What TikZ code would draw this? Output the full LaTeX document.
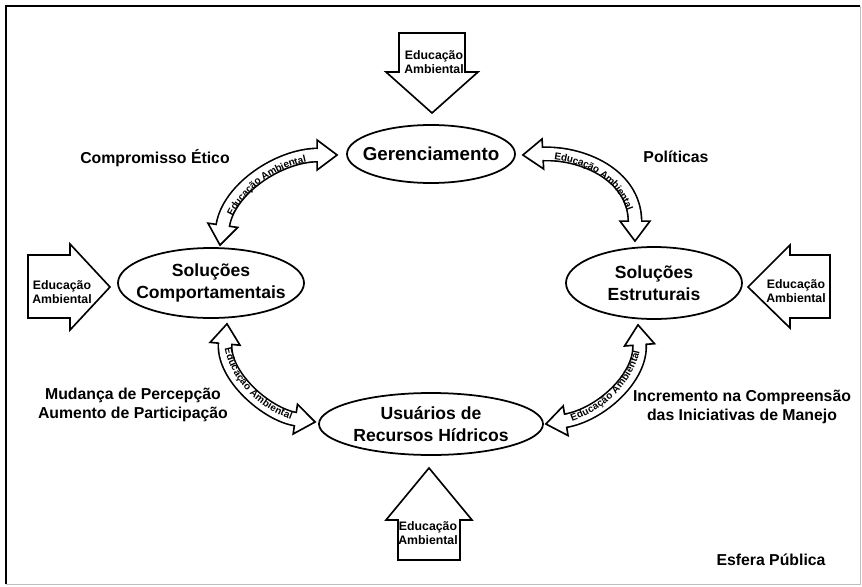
\documentclass[tikz,border=0pt]{standalone}
\usepackage{fontspec}
\setmainfont{Liberation Sans}
\usetikzlibrary{calc,shapes.geometric,decorations.markings,decorations.text}

% open head of a curved band, tip at the origin, pointing along +x
\newcommand\eahead{%
  \fill[white] (1,0) -- (-20,15) -- (-20,-15) -- cycle;
  \draw[line width=1.4pt,line join=miter] (-20,6) -- (-20,15) -- (0,0) -- (-20,-15) -- (-20,-6);}

% curved two-way band: start, control, control, end
\newcommand\eaband[4]{%
  \draw[band] #1 .. controls #2 and #3 .. #4;
  \path[decorate, decoration={markings,
      mark=at position 0 with {\begin{scope}[rotate=180]\eahead\end{scope}},
      mark=at position 0.9999 with {\eahead}}] #1 .. controls #2 and #3 .. #4;
  \path[bandtext] #1 .. controls #2 and #3 .. #4;}

\tikzset{
  topic/.style={ellipse, draw, line width=1.5pt, inner xsep=-1cm, inner ysep=0pt,
    align=center, font=\bfseries\fontsize{15}{19}\selectfont},
  lbl/.style={align=center, font=\bfseries\fontsize{13.5}{16}\selectfont},
  eatext/.style={align=center, inner sep=0pt, font=\bfseries\fontsize{10.5}{12}\selectfont},
  blockarrow/.style={draw, fill=white, line width=1.4pt, line join=miter},
  band/.style={double=white, double distance=10pt, line width=1.4pt,
    shorten <=0.57cm, shorten >=0.57cm},
  bandtext/.style={decorate, decoration={text along path,
      text={|\bfseries\fontsize{8.5}{10}\selectfont|Educação Ambiental},
      text align=center, raise=-1.1mm}}
}

\begin{document}
\begin{tikzpicture}[x=0.03cm,y=-0.03cm]
  \useasboundingbox (0,0) rectangle (862,587);
  \draw[line width=2.5pt] (6,584) -- (6,6) -- (860,6);
  \draw[gray!50,line width=0.6pt] (860,6) -- (860,584) -- (6,584);

  % the four themes
  \node[topic, minimum width=5.04cm, minimum height=1.74cm, font=\bfseries\fontsize{16}{19}\selectfont] (ger) at (431,154) {Gerenciamento};
  \node[topic, minimum width=5.58cm, minimum height=2.1cm] (comp) at (211,283) {Soluções\\Comportamentais};
  \node[topic, minimum width=5.28cm, minimum height=2.16cm] (estr) at (654,283) {Soluções\\Estruturais};
  \node[topic, minimum width=6.72cm, minimum height=1.86cm] (usu) at (431,424) {Usuários de\\Recursos Hídricos};

  % straight arrows from outside
  \draw[blockarrow] (399,33) -- (465,33) -- (465,72) -- (478,72) -- (432,113) -- (386,72) -- (399,72) -- cycle;
  \node[eatext] (eatop) at (434,62) {Educação\\Ambiental};
  \draw[blockarrow] (398,560) -- (460,560) -- (460,520) -- (472,520) -- (429,468) -- (386,520) -- (398,520) -- cycle;
  \node[eatext] (eabot) at (428,533) {Educação\\Ambiental};
  \draw[blockarrow] (28,255) -- (70,255) -- (70,244) -- (110,287) -- (70,330) -- (70,318) -- (28,318) -- cycle;
  \node[eatext] (eaw) at (62,292) {Educação\\Ambiental};
  \draw[blockarrow] (830,255) -- (790,255) -- (790,245) -- (748,287) -- (790,328) -- (790,318) -- (830,318) -- cycle;
  \node[eatext] (eae) at (796,291) {Educação\\Ambiental};

  % curved two-way bands
  \eaband{($(comp.north)+(9,-2)$)}{+(8,-56)}{+(-58,0)}{($(ger.west)+(-9,1)$)}
  \eaband{($(ger.east)+(7,1)$)}{+(58,-3)}{+(0,-67)}{($(estr.north)+(-19,-5)$)}
  \eaband{($(comp.south)+(16,5)$)}{+(-5,52)}{+(-48,-7)}{($(usu.west)+(-3,-2)$)}
  \eaband{($(usu.east)+(2,0)$)}{+(55,-9)}{+(4,52)}{($(estr.south)+(-16,5)$)}

  % labels
  \node[lbl] (etico) at (155,158) {Compromisso Ético};
  \node[lbl] (pol) at (676,157) {Políticas};
  \node[lbl] (perc) at (133,405) {Mudança de Percepção\\Aumento de Participação};
  \node[lbl] (incr) at (742,407) {Incremento na Compreensão\\das Iniciativas de Manejo};
  \node[lbl] (esfera) at (771,560) {Esfera Pública};
\end{tikzpicture}
\end{document}
